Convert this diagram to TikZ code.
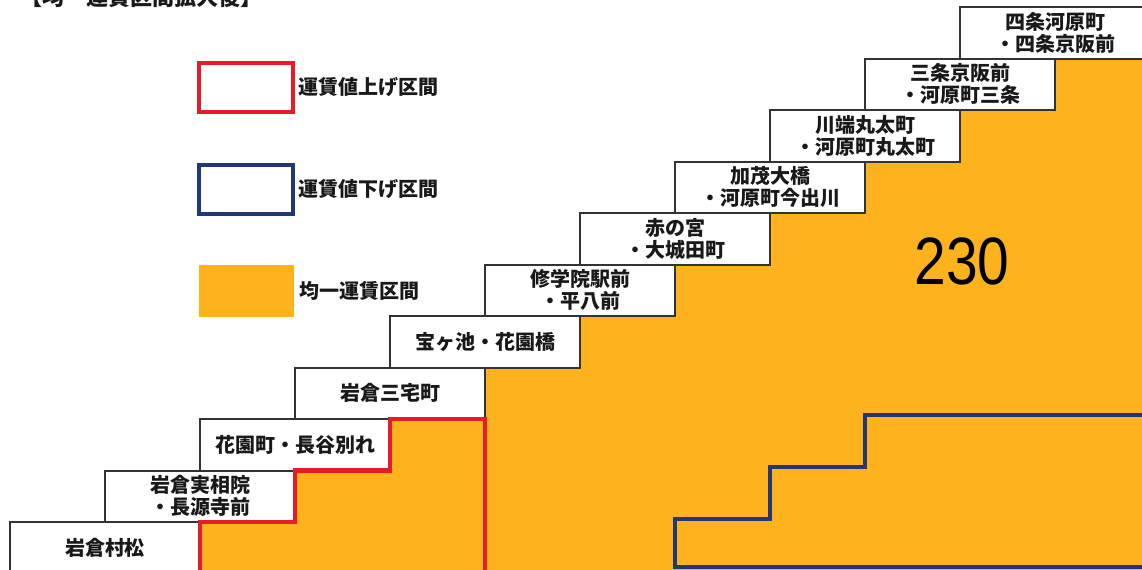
\documentclass[tikz,border=0pt]{standalone}
\usepackage{fontspec}
\usepackage{graphicx}
\newfontfamily\jpfont{Noto Sans CJK JP}
\newfontfamily\numfont{Liberation Sans}
\usetikzlibrary{positioning, backgrounds}
\definecolor{fareorange}{RGB}{253,178,30}
\definecolor{farered}{RGB}{232,28,40}
\definecolor{fareblue}{RGB}{32,56,118}
\tikzset{
    stepbox/.style={draw=black!80, line width=1pt, fill=white, anchor=south west, outer sep=0pt,
        minimum width=95pt, minimum height=25.75pt, inner sep=0pt, align=center, text=black!90,
        font=\jpfont\bfseries\fontsize{10pt}{11pt}\selectfont},
    legbox/.style={line width=2.2pt, fill=white, minimum width=47pt, minimum height=24.5pt},
    legtext/.style={inner sep=0pt, text=black!90, font=\jpfont\bfseries\fontsize{10pt}{11pt}\selectfont}
}

\begin{document}
\begin{tikzpicture}[x=0.5pt, y=-0.5pt]
    \useasboundingbox (0,0) rectangle (1142,569);

    \node[anchor=base west, inner sep=0pt, text=black!90, font=\jpfont\bfseries\fontsize{11pt}{11pt}\selectfont]
        (title) at (20,5) {【均一運賃区間拡大後】};

    \node[legbox, draw=farered] (legup) at (246,87.5) {};
    \node[legbox, draw=fareblue] (legdown) at (246,189.5) {};
    \node[fill=fareorange, minimum width=47.5pt, minimum height=26pt] (legflat) at (246.5,291) {};
    \node[legtext, right=1.5pt of legup] {運賃値上げ区間};
    \node[legtext, right=1.5pt of legdown] {運賃値下げ区間};
    \node[legtext, right=2.5pt of legflat] {均一運賃区間};

    \node[stepbox] (st1) at (10,573.5) {岩倉村松};
    \node[stepbox] (st2) at (st1.north) {岩倉実相院\\・長源寺前};
    \node[stepbox] (st3) at (st2.north) {花園町・長谷別れ};
    \node[stepbox] (st4) at (st3.north) {岩倉三宅町};
    \node[stepbox] (st5) at (st4.north) {宝ヶ池・花園橋};
    \node[stepbox] (st6) at (st5.north) {修学院駅前\\・平八前};
    \node[stepbox] (st7) at (st6.north) {赤の宮\\・大城田町};
    \node[stepbox] (st8) at (st7.north) {加茂大橋\\・河原町今出川};
    \node[stepbox] (st9) at (st8.north) {川端丸太町\\・河原町丸太町};
    \node[stepbox] (st10) at (st9.north) {三条京阪前\\・河原町三条};
    \node[stepbox] (st11) at (st10.north) {四条河原町\\・四条京阪前};

    \begin{scope}[on background layer]
        \fill[fareorange] (st2.south) -- (st2.south east) -- (st3.south) -- (st3.south east)
            -- (st4.south) -- (st4.south east) -- (st5.south) -- (st5.south east)
            -- (st6.south) -- (st6.south east) -- (st7.south) -- (st7.south east)
            -- (st8.south) -- (st8.south east) -- (st9.south) -- (st9.south east)
            -- (st10.south) -- (st10.south east) -- (st11.south) -- (st11.south east)
            -- (st11.south east |- 0,580) -- (st2.south |- 0,580) -- cycle;
    \end{scope}

    \draw[farered, line width=2.2pt] (st2.south |- 0,580) -- (st2.south) -- (st2.south east)
        -- (st3.south) -- (st3.south east) -- (st4.south) -- (st4.south east) -- (st4.south east |- 0,580);
    \draw[fareblue, line width=2pt] (1160,567) -- (st7.south |- 0,567) -- (675,519) -- (770,519)
        -- (770,467) -- (865,467) -- (865,415) -- (1160,415);

    \node[text=black, font=\numfont\fontsize{33.5pt}{34pt}\selectfont] (fare) at (962,261)
        {\scalebox{0.85}[1]{230}};
\end{tikzpicture}
\end{document}
